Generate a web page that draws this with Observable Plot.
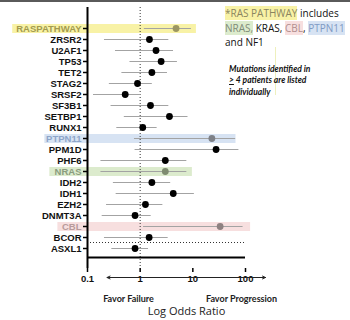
<!DOCTYPE html>
<html><head><meta charset="utf-8">
<script src="https://cdn.jsdelivr.net/npm/d3@7"></script>
<script src="https://cdn.jsdelivr.net/npm/@observablehq/plot@0.6"></script>
<style>
body{margin:0;background:#fff;}
#wrap{position:relative;width:350px;height:320px;overflow:hidden;}
.ann{position:absolute;font-family:"Open Sans",sans-serif;white-space:nowrap;color:#111;}
.note{position:absolute;font-family:Lato,sans-serif;font-weight:bold;font-style:italic;font-size:8.5px;color:#111;white-space:nowrap;}
</style></head>
<body><div id="wrap"></div>
<script>
const genes = ["RASPATHWAY","ZRSR2","U2AF1","TP53","TET2","STAG2","SRSF2","SF3B1","SETBP1","RUNX1","PTPN11","PPM1D","PHF6","NRAS","IDH2","IDH1","EZH2","DNMT3A","CBL","BCOR","ASXL1"];
const oddsRatio = [4.8,1.5,2.0,2.5,1.67,0.89,0.52,1.57,3.6,1.12,23,27.6,3.0,3.0,1.67,4.25,1.26,0.8,33,1.48,0.8];
const ciLow =  [1.2,0.21,0.34,0.64,0.45,0.26,0.13,0.28,0.5,0.36,0.78,0.8,0.18,0.18,0.31,0.35,0.23,0.19,1.16,0.21,0.29];
const ciHigh = [9.4,3.5,4.3,5.1,3.3,1.7,1.04,3.5,8.1,2.1,65,75,7.7,7.7,3.8,10.7,2.7,1.62,90,3.4,1.44];
const xTicks = [0.1,1,10,100];

const highlightGenes = ["RASPATHWAY","PTPN11","NRAS","CBL"];
const highlightBand = ["#f8f2a6","#d7e3f3","#dcebcd","#f7dfdf"];
const highlightLabel = ["#a39b4e","#8ea5c9","#8a9c7e","#b89b9b"];
const highlightDot = ["#9c9662","#7e8188","#7e8b70","#8e8181"];
const bandFrom = [0.0038,0.0155,0.0193,0.0274];
const bandTo = [11.7,66,9.8,125];

const rows = genes.map((g,i)=>({gene:g, or:oddsRatio[i], lo:ciLow[i], hi:ciHigh[i]}));
const bands = highlightGenes.map((g,i)=>({gene:g, color:highlightBand[i], from:bandFrom[i], to:bandTo[i]}));
const hi = g => highlightGenes.indexOf(g);
const labelColor = g => hi(g) >= 0 ? highlightLabel[hi(g)] : "#111";
const dotColor = d => hi(d.gene) >= 0 ? highlightDot[hi(d.gene)] : "#000";
const errColor = "#a3a3a3";

const chart = Plot.plot({
  width:350, height:320,
  marginLeft:87, marginRight:105, marginTop:7, marginBottom:52,
  style:{background:"transparent", overflow:"visible"},
  x:{type:"log", domain:[0.1,100], label:null},
  y:{type:"point", domain:genes, range:[16,259], label:null},
  marks:[
    Plot.ruleY(bands,{y:"gene", x1:"from", x2:"to", stroke:d=>d.color, strokeWidth:9, clip:false}),
    Plot.ruleX([1],{stroke:"#333", strokeDasharray:"1,2", strokeWidth:1}),
    Plot.ruleY(["ASXL1"],{x1:0.1, x2:100, dy:-6, stroke:"#333", strokeDasharray:"1,2", strokeWidth:1}),
    Plot.ruleY(rows,{y:"gene", x1:"lo", x2:"hi", stroke:errColor, strokeWidth:1}),
    Plot.ruleX(rows,{x:"lo", y:"gene", insetTop:-2.5, insetBottom:-2.5, stroke:errColor, strokeWidth:1}),
    Plot.ruleX(rows,{x:"hi", y:"gene", insetTop:-2.5, insetBottom:-2.5, stroke:errColor, strokeWidth:1}),
    Plot.dot(rows,{x:"or", y:"gene", r:3.4, fill:dotColor, stroke:null}),
    Plot.ruleX([0.1],{stroke:"#000", strokeWidth:2}),
    Plot.ruleY(["ASXL1"],{dy:9, stroke:"#000", strokeWidth:2}),
    Plot.axisY({tickSize:4, tickFormat:()=>"", strokeWidth:1.5, stroke:"#000", label:null}),
    Plot.text(genes,{x:0.1, y:d=>d, dx:-6, textAnchor:"end", fill:labelColor, fontWeight:"bold", fontSize:9.5, fontFamily:"Liberation Sans, Arial, sans-serif"}),
    Plot.axisX({ticks:xTicks, tickFormat:d=>String(d), tickSize:4, tickPadding:3, strokeWidth:1.5, stroke:"#000", fontWeight:"bold", fontSize:9.5, fontFamily:"Liberation Sans, Arial, sans-serif", fill:"#111", label:null}),
    Plot.arrow([{a:7.5,b:0.235},{a:7.5,b:240}],{x1:"a", x2:"b", y1:()=>"ASXL1", y2:()=>"ASXL1", dy:29, stroke:"#222", strokeWidth:1, headLength:5, headAngle:50, bend:false}),
    Plot.text(["Favor Failure"],{frameAnchor:"bottom", dx:-38, dy:33, fontWeight:"bold", fontSize:9, fontFamily:"Lato, sans-serif", fill:"#222"}),
    Plot.text(["Favor Progression"],{frameAnchor:"bottom", dx:75, dy:33, fontWeight:"bold", fontSize:9, fontFamily:"Lato, sans-serif", fill:"#222"}),
    Plot.text(["Log Odds Ratio"],{frameAnchor:"bottom", dx:20, dy:46, fontSize:11, fontFamily:"Open Sans, sans-serif", fill:"#222"})
  ]
});
const wrap = document.getElementById("wrap");
wrap.appendChild(chart);

const html = `
<div style="position:absolute;left:0;top:0;width:350px;height:2px;background:#5a5a5a"></div>
<div class="ann" style="left:225px;top:6px;font-size:10px;line-height:14.5px;">
<span style="background:#f8f2a6;color:#8a8560">*RAS PATHWAY</span> includes<br>
<span style="background:#dcebcd;color:#7f8c78">NRAS,</span> KRAS, <span style="background:#f7dfdf;color:#b08e8e">CBL</span>, <span style="background:#d7e3f3;color:#7f9ac4">PTPN11</span><br>
and NF1</div>
<div style="position:absolute;left:275px;top:47px;width:1px;height:48px;background:#eef0bd"></div>
<div class="note" style="left:229px;top:64px;line-height:11.3px;">Mutations identified in<br><u>&gt;</u> 4 patients are listed<br>individually</div>`;
wrap.insertAdjacentHTML("beforeend", html);
</script></body></html>
